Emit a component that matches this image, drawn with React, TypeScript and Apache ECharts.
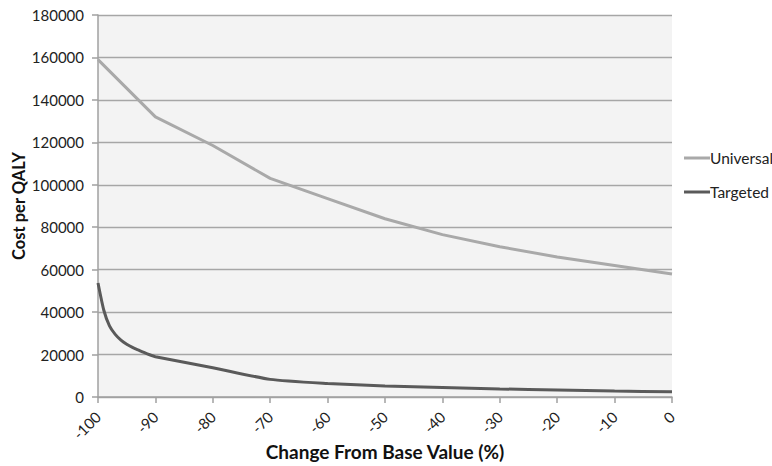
import React, { useEffect, useRef } from "react";
import * as echarts from "echarts";

const universalX = [-100, -90, -80, -70, -60, -50, -40, -30, -20, -10, 0];
const universalY = [159000, 132000, 118500, 103000, 93500, 84000, 76500, 70800, 66000, 62000, 58000];

const targetedX = [-100, -99, -98, -97, -96, -95, -94, -93, -92, -91, -90, -80, -70, -60, -50, -40, -30, -20, -10, 0];
const targetedY = [53700, 41000, 33500, 29500, 26800, 24900, 23400, 22200, 21000, 19900, 19000, 13800, 8300, 6400, 5200, 4500, 3800, 3300, 2800, 2500];

const xTicks = { min: -100, max: 0, interval: 10 };
const yTicks = { min: 0, max: 180000, interval: 20000 };

export default function App() {
  const ref = useRef<HTMLDivElement>(null);
  useEffect(() => {
    if (!ref.current) return;
    const chart = echarts.init(ref.current, undefined, { renderer: "svg" });
    const font = "Lato, 'Open Sans', sans-serif";
    chart.setOption({
      animation: false,
      backgroundColor: "#ffffff",
      textStyle: { fontFamily: font },
      grid: {
        left: 98,
        top: 15,
        right: 100,
        bottom: 69,
        show: false,
        outerBoundsMode: "none",
        containLabel: false,
      },
      legend: {
        orient: "vertical",
        left: 679,
        top: 145,
        itemGap: 18,
        itemWidth: 26,
        itemHeight: 3,
        icon: "rect",
        textStyle: { fontFamily: font, fontSize: 15.5, color: "#222", padding: [0, 0, 0, -5] },
        data: ["Universal", "Targeted"],
      },
      xAxis: {
        type: "value",
        min: xTicks.min,
        max: xTicks.max,
        interval: xTicks.interval,
        name: "Change From Base Value (%)",
        nameLocation: "middle",
        nameGap: 45,
        nameMoveOverlap: false,
        nameTextStyle: { fontFamily: font, fontSize: 19, fontWeight: "bold", color: "#111" },
        axisLine: { show: true, onZero: false, lineStyle: { color: "#a0a0a0", width: 1.5 } },
        axisTick: { show: true, length: 6, lineStyle: { color: "#a0a0a0", width: 1.5 } },
        axisLabel: { rotate: 45, fontSize: 15, color: "#222", margin: 17, fontFamily: font },
        splitLine: { show: false },
        splitArea: { show: false },
      },
      yAxis: {
        type: "value",
        min: yTicks.min,
        max: yTicks.max,
        interval: yTicks.interval,
        name: "Cost per QALY",
        nameLocation: "middle",
        nameGap: 71,
        nameMoveOverlap: false,
        nameTextStyle: { fontFamily: font, fontSize: 16.5, fontWeight: "bold", color: "#111" },
        axisLine: { show: true, onZero: false, lineStyle: { color: "#a0a0a0", width: 1.5 } },
        axisTick: { show: true, length: 6, lineStyle: { color: "#a0a0a0", width: 1.5 } },
        axisLabel: {
          fontSize: 15,
          color: "#222",
          margin: 14,
          fontFamily: font,
          formatter: (v: number) => String(v),
        },
        splitLine: { show: true, lineStyle: { color: "#a6a6a6", width: 1.3 } },
        splitArea: { show: true, areaStyle: { color: ["#f3f3f3", "#f3f3f3"] } },
      },
      series: [
        {
          name: "Universal",
          type: "line",
          data: universalX.map((x, i) => [x, universalY[i]]),
          showSymbol: false,
          symbol: "none",
          color: "#a9a9a9",
          lineStyle: { color: "#a9a9a9", width: 3 },
        },
        {
          name: "Targeted",
          type: "line",
          data: targetedX.map((x, i) => [x, targetedY[i]]),
          showSymbol: false,
          symbol: "none",
          smooth: 0.2,
          color: "#5a5a5a",
          lineStyle: { color: "#5a5a5a", width: 3 },
        },
      ],
    });
    return () => chart.dispose();
  }, []);
  return (
    <div
      ref={ref}
      style={{ position: "fixed", left: 0, top: 0, width: 772, height: 466 }}
    />
  );
}
